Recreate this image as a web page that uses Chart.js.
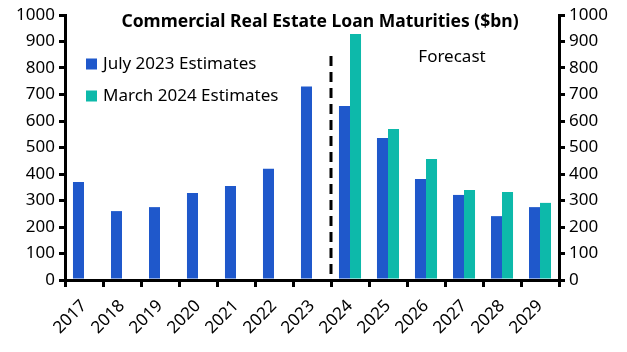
<!DOCTYPE html>
<html>
<head>
<meta charset="utf-8">
<script src="https://cdn.jsdelivr.net/npm/chart.js@4"></script>
<style>
  html, body { margin: 0; padding: 0; background: #fff; }
  #wrap { width: 627px; height: 352px; position: relative; }
</style>
</head>
<body>
<div id="wrap"><canvas id="chart" width="627" height="352"></canvas></div>
<script>
// data
const years = ['2017', '2018', '2019', '2020', '2021', '2022', '2023', '2024', '2025', '2026', '2027', '2028', '2029'];
const july2023 = [370, 260, 275, 328, 355, 420, 730, 657, 536, 381, 321, 241, 275];
const march2024 = [null, null, null, null, null, null, null, 928, 570, 457, 340, 332, 291];
const yTicks = [0, 100, 200, 300, 400, 500, 600, 700, 800, 900, 1000];
const seriesNames = ['July 2023 Estimates', 'March 2024 Estimates'];
const titleText = 'Commercial Real Estate Loan Maturities ($bn)';
const forecastText = 'Forecast';
const forecastFrom = 6.5; // between 2023 and 2024

const BLUE = '#1f58cb';
const TEAL = '#0db9aa';
const FONT = '"Noto Sans", "Open Sans", sans-serif';

// title, legend, forecast marker
const decorations = {
    id: 'decorations',
    afterDatasetsDraw(chart) {
        const ctx = chart.ctx;
        const x = chart.scales.x;
        const y = chart.scales.y;
        ctx.save();

        // dashed forecast line
        const fx = x.getPixelForValue(forecastFrom);
        ctx.strokeStyle = '#000';
        ctx.lineWidth = 3;
        ctx.setLineDash([10, 6]);
        ctx.beginPath();
        ctx.moveTo(fx, y.getPixelForValue(845));
        ctx.lineTo(fx, y.bottom);
        ctx.stroke();
        ctx.setLineDash([]);

        // title
        ctx.fillStyle = '#000';
        ctx.textBaseline = 'middle';
        ctx.textAlign = 'center';
        ctx.font = 'bold 17.5px ' + FONT;
        ctx.fillText(titleText, 320, 22);

        // forecast label
        ctx.font = '17px ' + FONT;
        ctx.fillText(forecastText, 452, 57);

        // legend
        const colors = [BLUE, TEAL];
        ctx.textAlign = 'left';
        seriesNames.forEach((name, i) => {
            const cy = 64 + i * 32;
            ctx.fillStyle = colors[i];
            ctx.fillRect(86, cy - 5.5, 11, 11);
            ctx.fillStyle = '#000';
            ctx.fillText(name, 103, cy);
        });
        ctx.restore();
    }
};

const tickFont = { family: FONT, size: 17 };

function yAxis(position) {
    return {
        position: position,
        min: 0,
        max: 1000,
        afterBuildTicks: axis => { axis.ticks = yTicks.map(v => ({ value: v })); },
        afterFit: axis => { axis.width = position === 'left' ? 65 : 68; },
        ticks: { color: '#000', font: tickFont, padding: 4, callback: v => String(v) },
        grid: { drawOnChartArea: false, color: '#000', lineWidth: 3, tickLength: 6 },
        border: { color: '#000', width: 3 }
    };
}

new Chart(document.getElementById('chart'), {
    type: 'bar',
    data: {
        labels: years,
        datasets: [
            { label: seriesNames[0], data: july2023, backgroundColor: BLUE, yAxisID: 'y' },
            { label: seriesNames[1], data: march2024, backgroundColor: TEAL, yAxisID: 'y' }
        ]
    },
    options: {
        responsive: false,
        animation: false,
        devicePixelRatio: 1,
        layout: { padding: { top: 15, left: 0, right: 0, bottom: 0 } },
        datasets: { bar: { categoryPercentage: 0.58, barPercentage: 1 } },
        plugins: {
            legend: { display: false },
            tooltip: { enabled: false }
        },
        scales: {
            x: {
                afterFit: axis => { axis.height = 72; },
                ticks: { color: '#000', font: tickFont, maxRotation: 45, minRotation: 45, padding: 9 },
                grid: { drawOnChartArea: false, color: '#000', lineWidth: 3, tickLength: 7, offset: true },
                border: { color: '#000', width: 3 }
            },
            y: yAxis('left'),
            y1: yAxis('right')
        }
    },
    plugins: [decorations]
});
</script>
</body>
</html>
